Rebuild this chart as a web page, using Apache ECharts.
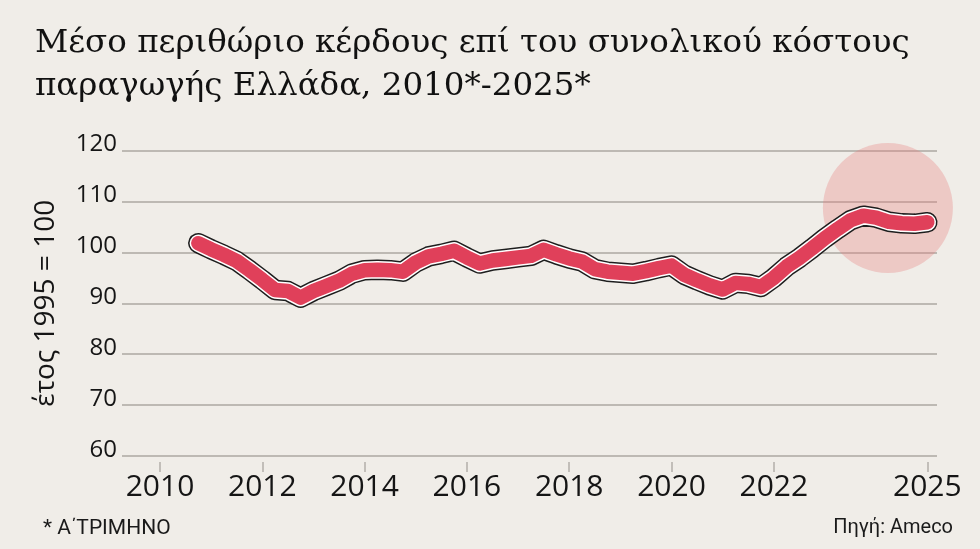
<!DOCTYPE html>
<html>
<head>
<meta charset="utf-8">
<script src="https://cdn.jsdelivr.net/npm/echarts@6/dist/echarts.min.js"></script>
<style>
  html, body { margin: 0; padding: 0; background: #f0ede8; }
  #chart { width: 980px; height: 549px; }
</style>
</head>
<body>
<div id="chart"></div>
<script>
// τριμηνιαία στοιχεία, έτος 1995 = 100
var firstQuarter = 2010.75;
var margin = [
    101.8, 100.6, 99.5, 98.3, 96.5, 94.6, 92.6, 92.4,
    91.1, 92.4, 93.4, 94.4, 95.8, 96.5, 96.6, 96.5,
    96.2, 98.0, 99.2, 99.7, 100.3, 99.0, 97.8, 98.4,
    98.7, 99.0, 99.3, 100.5, 99.6, 98.8, 98.2, 96.7,
    96.2, 96.0, 95.8, 96.3, 96.9, 97.4, 95.6, 94.5,
    93.5, 92.7, 94.0, 93.8, 93.2, 95.0, 97.2, 98.9,
    100.8, 102.8, 104.6, 106.3, 107.2, 106.8, 106.0, 105.7,
    105.6, 105.9
];
var yearTicks = [2010, 2012, 2014, 2016, 2018, 2020, 2022, 2025];
var highlight = [[2024.23, 108.7]];

var points = margin.map(function (v, i) {
    return [firstQuarter + i * 0.25, v];
});

var chart = echarts.init(document.getElementById('chart'));

function lineSeries(color, width, z) {
    return {
        type: 'line',
        data: points,
        symbol: 'none',
        silent: true,
        z: z,
        lineStyle: { color: color, width: width, cap: 'round', join: 'round' }
    };
}

var option = {
    backgroundColor: '#f0ede8',
    animation: false,
    textStyle: { fontFamily: 'Open Sans' },
    title: [{
        text: 'Μέσο περιθώριο κέρδους επί του συνολικού κόστους\nπαραγωγής Ελλάδα, 2010*-2025*',
        left: 30,
        top: 17,
        textStyle: {
            fontFamily: 'DejaVu Serif',
            fontWeight: 'normal',
            fontSize: 32.5,
            lineHeight: 43,
            color: '#111'
        }
    }, {
        text: '* Α΄ΤΡΙΜΗΝΟ',
        left: 38,
        top: 513,
        textStyle: { fontFamily: 'Roboto', fontWeight: 'normal', fontSize: 21, color: '#1a1a1a' }
    }, {
        text: 'Πηγή: Ameco',
        right: 22,
        top: 513,
        textStyle: { fontFamily: 'Roboto', fontWeight: 'normal', fontSize: 20, color: '#1a1a1a' }
    }],
    grid: { left: 122, right: 43, top: 150.5, bottom: 93 },
    xAxis: {
        type: 'value',
        min: 2009.257,
        max: 2025.19,
        offset: 6,
        axisLine: { show: false },
        splitLine: { show: false },
        axisTick: {
            show: true,
            customValues: yearTicks,
            length: 10,
            lineStyle: { color: '#b3afa9', width: 1.5 }
        },
        axisLabel: {
            customValues: yearTicks,
            margin: 10,
            fontSize: 30,
            color: '#151515',
            fontFamily: 'Open Sans',
            formatter: function (v) { return String(v); }
        }
    },
    yAxis: {
        type: 'value',
        min: 60,
        max: 120,
        interval: 10,
        name: 'έτος 1995 = 100',
        nameLocation: 'middle',
        nameRotate: 90,
        nameGap: 62,
        nameTextStyle: { fontSize: 28, color: '#151515', fontFamily: 'Open Sans' },
        axisLine: { show: false },
        axisTick: { show: false },
        splitLine: { lineStyle: { color: '#bdb9b3', width: 2 } },
        axisLabel: {
            margin: 5,
            fontSize: 24,
            color: '#151515',
            fontFamily: 'Open Sans',
            verticalAlign: 'bottom',
            lineHeight: 12
        }
    },
    series: [
        {
            type: 'scatter',
            data: highlight,
            symbolSize: 130,
            silent: true,
            z: 1,
            itemStyle: { color: 'rgba(230,125,125,0.4)' }
        },
        lineSeries('#1e1e1e', 20.5, 3),
        lineSeries('#ffffff', 17.5, 4),
        lineSeries('#e0405a', 14.5, 5)
    ]
};

chart.setOption(option);
</script>
</body>
</html>
